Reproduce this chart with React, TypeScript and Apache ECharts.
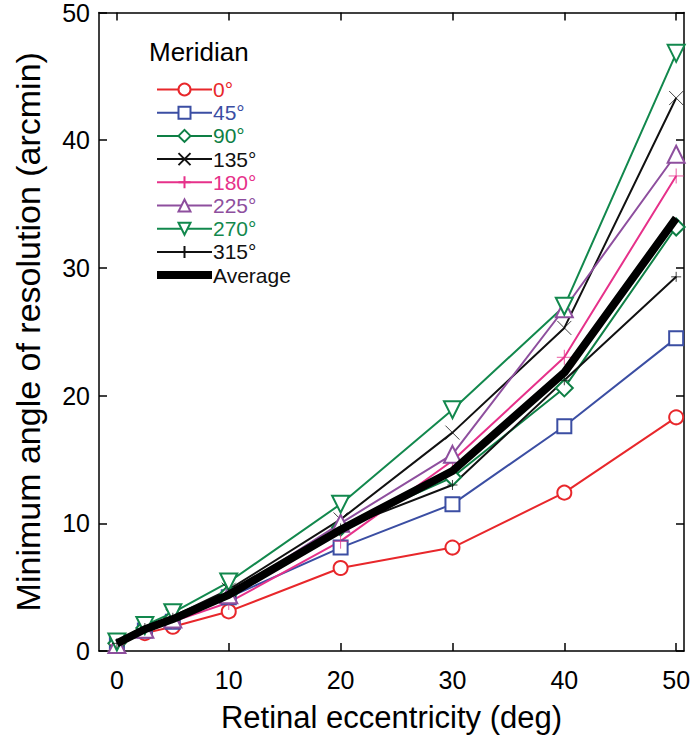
import React, { useEffect, useRef } from "react";
import * as echarts from "echarts";

const eccentricity = [0, 2.5, 5, 10, 20, 30, 40, 50];
const xTicks = [0, 10, 20, 30, 40, 50];

const m0 = [0.5, 1.4, 1.9, 3.1, 6.5, 8.1, 12.4, 18.3];
const m45 = [0.5, 1.6, 2.3, 4.2, 8.1, 11.5, 17.6, 24.5];
const m90 = [0.6, 1.8, 2.6, 4.5, 9.7, 13.6, 20.6, 33.2];
const m135 = [0.6, 1.9, 2.7, 4.8, 10.3, 17.1, 25.3, 43.3];
const m180 = [0.5, 1.6, 2.3, 3.8, 8.6, 14.9, 23.0, 37.2];
const m225 = [0.5, 1.7, 2.5, 4.4, 10.0, 15.4, 26.8, 38.9];
const m270 = [0.7, 2.0, 3.0, 5.4, 11.5, 18.9, 27.0, 46.8];
const m315 = [0.6, 1.8, 2.6, 4.5, 9.6, 13.0, 21.2, 29.3];
const average = [0.6, 1.7, 2.5, 4.4, 9.5, 14.1, 21.8, 33.9];

const seriesNames = ["0°", "45°", "90°", "135°", "180°", "225°", "270°", "315°", "Average"];

const FONT = "'Liberation Sans', Arial, Helvetica, sans-serif";

const CROSS = "path://M0,0L10,10M10,0L0,10";
const PLUS = "path://M5,0L5,10M0,5L10,5";
const THICK = "path://M0,0L55,0L55,8L0,8Z";

export default function App() {
  const ref = useRef<HTMLDivElement>(null);

  useEffect(() => {
    if (!ref.current) return;
    const chart = echarts.init(ref.current, undefined, { renderer: "svg" });

    const defs = [
      { name: seriesNames[0], data: m0, color: "#e8272b", symbol: "emptyCircle", size: 14, rotate: 0 },
      { name: seriesNames[1], data: m45, color: "#3b4ea3", symbol: "emptyRect", size: 14, rotate: 0 },
      { name: seriesNames[2], data: m90, color: "#0e7f45", symbol: "emptyDiamond", size: 17, rotate: 0 },
      { name: seriesNames[3], data: m135, color: "#111111", symbol: CROSS, size: 14, rotate: 0 },
      { name: seriesNames[4], data: m180, color: "#e6318a", symbol: PLUS, size: 15, rotate: 0 },
      { name: seriesNames[5], data: m225, color: "#8e4f9e", symbol: "emptyTriangle", size: 17, rotate: 0 },
      { name: seriesNames[6], data: m270, color: "#12884d", symbol: "emptyTriangle", size: 17, rotate: 180 },
      { name: seriesNames[7], data: m315, color: "#111111", symbol: PLUS, size: 10, rotate: 0 },
    ];

    const series: any[] = defs.map((d) => ({
      name: d.name,
      type: "line",
      data: eccentricity.map((x, i) => [x, d.data[i]]),
      symbol: d.symbol,
      symbolSize: d.size,
      symbolRotate: d.rotate,
      showAllSymbol: true,
      lineStyle: { color: d.color, width: 2 },
      itemStyle: {
        color: d.color,
        borderColor: d.color,
        borderWidth: 0.8,
      },
      emphasis: { disabled: true },
      z: 3,
    }));

    series.push({
      name: seriesNames[8],
      type: "line",
      data: eccentricity.map((x, i) => [x, average[i]]),
      symbol: "none",
      lineStyle: { color: "#000000", width: 8 },
      itemStyle: { color: "#000000" },
      emphasis: { disabled: true },
      z: 4,
    });

    const legendColors = ["#e8272b", "#3b4ea3", "#0e7f45", "#111111", "#e6318a", "#8e4f9e", "#12884d", "#111111", "#111111"];

    const tickStyle = { show: true, inside: true, length: 8, lineStyle: { color: "#000", width: 1.5 } };

    chart.setOption({
      animation: false,
      backgroundColor: "#ffffff",
      textStyle: { fontFamily: FONT },
      grid: { left: 99, right: 13, top: 12, bottom: 91, containLabel: false },
      graphic: [
        {
          type: "text",
          left: 149,
          top: 39,
          style: { text: "Meridian", fontSize: 26, fontFamily: FONT, fill: "#000" },
        },
      ],
      legend: {
        orient: "vertical",
        left: 151,
        top: 74,
        itemWidth: 55,
        itemHeight: 15,
        itemGap: 2.2,
        selectedMode: false,
        textStyle: { fontSize: 21, fontFamily: FONT, padding: [0, 0, 0, -4] },
        data: seriesNames.map((n, i) => ({
          name: n,
          ...(n === "Average" ? { icon: THICK } : {}),
          textStyle: { color: legendColors[i], fontSize: 21, fontFamily: FONT },
        })),
      },
      xAxis: [
        {
          type: "value",
          min: -1.6,
          max: 50.7,
          position: "bottom",
          name: "Retinal eccentricity (deg)",
          nameLocation: "middle",
          nameGap: 51,
          nameTextStyle: { fontSize: 31, color: "#000", fontFamily: FONT },
          axisLine: { show: true, onZero: false, lineStyle: { color: "#000", width: 1.5 } },
          axisTick: { ...tickStyle, customValues: xTicks },
          axisLabel: { customValues: xTicks, fontSize: 25, color: "#000", margin: 16, fontFamily: FONT },
          splitLine: { show: false },
        },
        {
          type: "value",
          min: -1.6,
          max: 50.7,
          position: "top",
          axisLine: { show: true, onZero: false, lineStyle: { color: "#000", width: 1.5 } },
          axisTick: { ...tickStyle, customValues: xTicks },
          axisLabel: { show: false },
          splitLine: { show: false },
        },
      ],
      yAxis: [
        {
          type: "value",
          min: 0,
          max: 50,
          interval: 10,
          position: "left",
          name: "Minimum angle of resolution (arcmin)",
          nameLocation: "middle",
          nameGap: 54,
          nameTextStyle: { fontSize: 34, color: "#000", fontFamily: FONT },
          axisLine: { show: true, onZero: false, lineStyle: { color: "#000", width: 1.5 } },
          axisTick: tickStyle,
          axisLabel: { fontSize: 25, color: "#000", margin: 9, fontFamily: FONT },
          splitLine: { show: false },
        },
        {
          type: "value",
          min: 0,
          max: 50,
          interval: 10,
          position: "right",
          axisLine: { show: true, onZero: false, lineStyle: { color: "#000", width: 1.5 } },
          axisTick: tickStyle,
          axisLabel: { show: false },
          splitLine: { show: false },
        },
      ],
      series,
    });

    return () => chart.dispose();
  }, []);

  return (
    <div
      ref={ref}
      style={{ position: "absolute", left: 0, top: 0, width: 697, height: 742 }}
    />
  );
}
